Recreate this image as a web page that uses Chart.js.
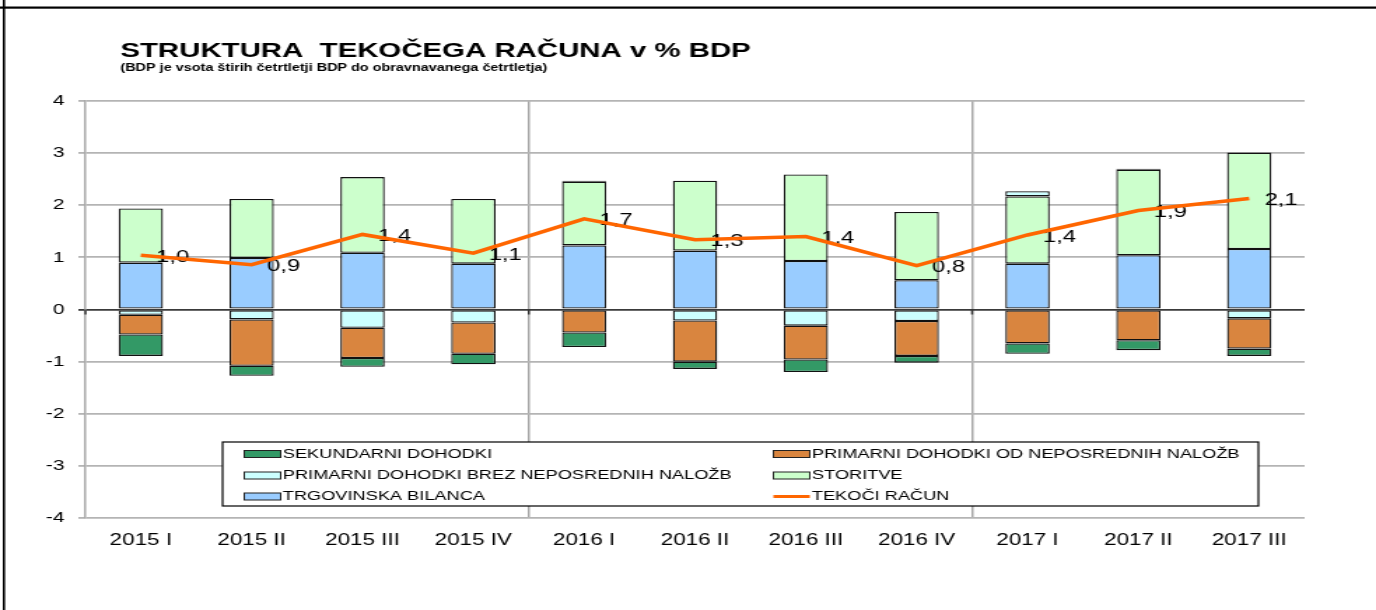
<!DOCTYPE html>
<html><head><meta charset="utf-8">
<script src="https://cdn.jsdelivr.net/npm/chart.js@4.4.1/dist/chart.umd.min.js"></script>
<style>
html,body{margin:0;padding:0;background:#fff;overflow:hidden}
</style></head><body>
<canvas id="c" width="983" height="610" style="display:block;width:1376px;height:610px"></canvas>
<script>
const titleText = 'STRUKTURA  TEKOČEGA RAČUNA v % BDP';
const subtitleText = '(BDP je vsota štirih četrtletji BDP do obravnavanega četrtletja)';
const categories = ['2015 I','2015 II','2015 III','2015 IV','2016 I','2016 II','2016 III','2016 IV','2017 I','2017 II','2017 III'];
const yTicks = [-4,-3,-2,-1,0,1,2,3,4];

const trgovinska = [0.90, 0.99, 1.09, 0.88, 1.23, 1.13, 0.93, 0.56, 0.88, 1.04, 1.16];
const storitve   = [1.04, 1.13, 1.45, 1.24, 1.22, 1.34, 1.66, 1.31, 1.29, 1.64, 1.85];
const primarniBrez = [-0.10, -0.19, -0.35, -0.25, 0.02, -0.21, -0.31, -0.22, 0.10, 0.02, -0.17];
const primarniOd = [-0.38, -0.89, -0.58, -0.60, -0.44, -0.79, -0.65, -0.67, -0.65, -0.59, -0.58];
const sekundarni = [-0.41, -0.19, -0.17, -0.20, -0.28, -0.14, -0.24, -0.13, -0.20, -0.19, -0.14];
const tekociRacun = [1.04, 0.86, 1.44, 1.08, 1.74, 1.34, 1.40, 0.84, 1.43, 1.90, 2.13];

const L_SEK = 'SEKUNDARNI DOHODKI';
const L_OD = 'PRIMARNI DOHODKI OD NEPOSREDNIH NALOŽB';
const L_BREZ = 'PRIMARNI DOHODKI BREZ NEPOSREDNIH NALOŽB';
const L_STOR = 'STORITVE';
const L_TRG = 'TRGOVINSKA BILANCA';
const L_TEK = 'TEKOČI RAČUN';
const legendRows = [[L_SEK, L_OD],[L_BREZ, L_STOR],[L_TRG, L_TEK]];

const FONT = "'Liberation Sans', Arial, Helvetica, sans-serif";
Chart.defaults.font.family = FONT;
Chart.defaults.color = '#000';

function barDs(label, data, color){
  return {label, data, backgroundColor: color, borderColor: '#111', borderWidth: 1.3,
    borderSkipped: false, stack: 'bars', barPercentage: 0.4, categoryPercentage: 1.0};
}

const deco = {
  id: 'deco',
  beforeDraw(chart){
    const ctx = chart.ctx;
    ctx.save(); ctx.fillStyle = '#fff'; ctx.fillRect(0,0,chart.width,chart.height); ctx.restore();
  },
  beforeDatasetsDraw(chart){
    const ctx = chart.ctx, xs = chart.scales.x, ys = chart.scales.y;
    const y0 = ys.getPixelForValue(0);
    ctx.save();
    ctx.strokeStyle = '#333'; ctx.lineWidth = 1.5;
    [ -0.5, 3.5, 7.5 ].forEach(v => {
      const x = v < 0 ? chart.chartArea.left : xs.getPixelForValue(v);
      ctx.beginPath(); ctx.moveTo(x, y0); ctx.lineTo(x, y0 + 5); ctx.stroke();
    });
    ctx.restore();
  },
  beforeDatasetDraw(chart, args){
    if (args.meta.type !== 'line') return;
    const ctx = chart.ctx;
    ctx.save();
    ctx.font = '17px ' + FONT;
    ctx.fillStyle = '#000';
    ctx.textAlign = 'left'; ctx.textBaseline = 'middle';
    args.meta.data.forEach((pt, i) => {
      const v = chart.data.datasets[args.index].data[i];
      ctx.fillText(v.toFixed(1).replace('.', ','), pt.x + 11, pt.y + 2);
    });
    ctx.restore();
  },
  afterDraw(chart){
    const ctx = chart.ctx;
    ctx.save();
    // frame lines
    ctx.fillStyle = '#000';
    ctx.fillRect(2, 0, 1.6, chart.height);
    ctx.fillRect(0, 6.5, chart.width, 2.2);
    // title
    ctx.textAlign = 'left'; ctx.textBaseline = 'alphabetic';
    ctx.font = 'bold 21px ' + FONT;
    ctx.fillText(titleText, 86, 57);
    ctx.font = 'bold 10.3px ' + FONT;
    ctx.fillText(subtitleText, 86, 71);
    // legend
    const bx = 159, by = 442, bw = 740, bh = 64;
    ctx.fillStyle = '#fff'; ctx.fillRect(bx, by, bw, bh);
    ctx.strokeStyle = '#000'; ctx.lineWidth = 1.2; ctx.strokeRect(bx, by, bw, bh);
    const rowY = [454, 475.5, 496.5];
    const colSw = [174.5, 552.5];
    ctx.font = '13px ' + FONT; ctx.textBaseline = 'middle';
    legendRows.forEach((row, r) => {
      row.forEach((lab, c) => {
        const ds = chart.data.datasets.find(d => d.label === lab);
        const sx = colSw[c], y = rowY[r];
        if (ds.type === 'line') {
          ctx.strokeStyle = ds.borderColor; ctx.lineWidth = 3;
          ctx.beginPath(); ctx.moveTo(sx, y); ctx.lineTo(sx + 26, y); ctx.stroke();
        } else {
          ctx.fillStyle = ds.backgroundColor; ctx.fillRect(sx, y - 3.5, 26, 7);
          ctx.strokeStyle = '#222'; ctx.lineWidth = 1; ctx.strokeRect(sx, y - 3.5, 26, 7);
        }
        ctx.fillStyle = '#000';
        ctx.fillText(lab, sx + 27.5, y);
      });
    });
    ctx.restore();
  }
};

new Chart(document.getElementById('c'), {
  type: 'bar',
  data: {
    labels: categories,
    datasets: [
      barDs(L_TRG, trgovinska, '#99CCFF'),
      barDs(L_STOR, storitve, '#CCFFCC'),
      barDs(L_BREZ, primarniBrez, '#CCFFFF'),
      barDs(L_OD, primarniOd, '#D9853F'),
      barDs(L_SEK, sekundarni, '#339966'),
      {type: 'line', label: L_TEK, data: tekociRacun, borderColor: '#FF6600', backgroundColor: '#FF6600',
       borderWidth: 3.5, pointRadius: 0, tension: 0, fill: false, stack: 'line', order: -1}
    ]
  },
  options: {
    responsive: false, devicePixelRatio: 1, animation: false,
    layout: {padding: {top: 101, right: 51, bottom: 0, left: 0}},
    plugins: {legend: {display: false}, title: {display: false}, tooltip: {enabled: false}},
    scales: {
      x: {
        stacked: true, offset: true,
        grid: {offset: true, drawTicks: false, lineWidth: 1.5,
          color: c => (c.index === 4 || c.index === 8) ? '#A8A8A8' : 'rgba(0,0,0,0)'},
        border: {display: false},
        ticks: {font: {size: 16}, color: '#000', padding: 13, maxRotation: 0, autoSkip: false},
        afterFit(s){ s.height = 92; }
      },
      y: {
        stacked: true, min: -4, max: 4,
        afterBuildTicks(s){ s.ticks = yTicks.map(v => ({value: v})); },
        ticks: {stepSize: 1, font: {size: 15}, color: '#000', padding: 10},
        grid: {tickLength: 5, lineWidth: 1.8,
          color: c => (c.tick && c.tick.value === 0) ? '#3A3A3A' : '#B4B4B4'},
        border: {display: true, color: '#A8A8A8', width: 1.5},
        afterFit(s){ s.width = 61; }
      }
    }
  },
  plugins: [deco]
});
</script>
</body></html>
